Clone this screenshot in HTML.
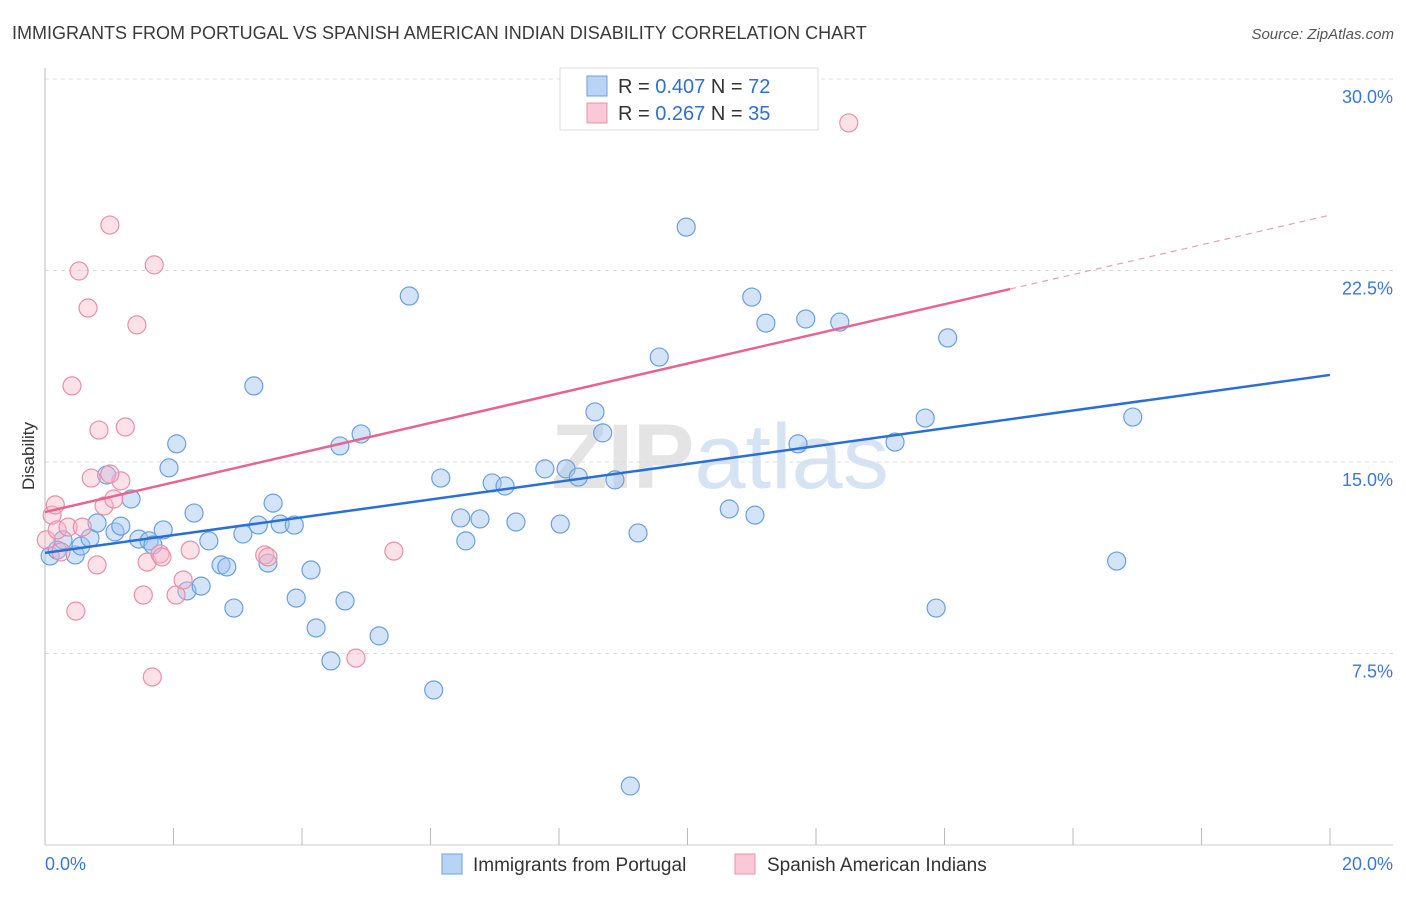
<!DOCTYPE html>
<html><head><meta charset="utf-8"><style>
body{margin:0;background:#fff;font-family:"Liberation Sans",sans-serif}
svg text{font-family:"Liberation Sans",sans-serif}
</style></head><body>
<svg width="1406" height="892" xmlns="http://www.w3.org/2000/svg" id="chart">
<text x="12" y="39" font-size="18" fill="#3a3a3a">IMMIGRANTS FROM PORTUGAL VS SPANISH AMERICAN INDIAN DISABILITY CORRELATION CHART</text>
<text x="1394" y="39" font-size="15" fill="#555" font-style="italic" text-anchor="end">Source: ZipAtlas.com</text>
<text x="720" y="488" font-size="92" fill="#e4e4e4" text-anchor="middle" font-weight="bold">ZIP<tspan fill="#d5e3f3" font-weight="normal">atlas</tspan></text>
<text x="34" y="456" font-size="17" fill="#333" text-anchor="middle" transform="rotate(-90 34 456)">Disability</text>
<g id="grid"></g><g id="marks"></g>
<g>
<rect x="560" y="68" width="258" height="62" fill="#fff" stroke="#ddd"/>
<rect x="587" y="76" width="20" height="20" fill="#b9d3f5" stroke="#6a9fe0"/>
<text x="618" y="93" font-size="20" fill="#333">R = <tspan fill="#2f6fd0">0.407</tspan>   N = <tspan fill="#2f6fd0">72</tspan></text>
<rect x="587" y="103" width="20" height="20" fill="#fac8d6" stroke="#e890a8"/>
<text x="618" y="120" font-size="20" fill="#333">R =  <tspan fill="#2f6fd0">0.267</tspan>   N = <tspan fill="#2f6fd0">35</tspan></text>
</g>
<g>
<rect x="442" y="854" width="20" height="20" fill="#b9d3f5" stroke="#6a9fe0"/>
<text x="473" y="871" font-size="19" fill="#333">Immigrants from Portugal</text>
<rect x="735" y="854" width="20" height="20" fill="#fac8d6" stroke="#e890a8"/>
<text x="767" y="871" font-size="19" fill="#333">Spanish American Indians</text>
</g>
</svg>
<script>
const blueX=[0.08,0.19,0.28,0.47,0.56,0.70,0.81,0.96,1.09,1.18,1.34,1.46,1.62,1.68,1.84,1.93,2.05,2.21,2.32,2.43,2.55,2.74,2.83,2.94,3.08,3.25,3.32,3.47,3.55,3.66,3.88,3.91,4.14,4.22,4.45,4.59,4.67,4.92,5.20,5.67,6.05,6.16,6.47,6.55,6.77,6.96,7.16,7.33,7.78,8.02,8.11,8.30,8.56,8.68,8.87,9.11,9.23,9.56,9.98,10.65,11.00,11.05,11.22,11.72,11.84,12.37,13.23,13.70,13.87,14.05,16.68,16.93];
const blueY=[11.32,11.55,11.95,11.36,11.71,12.02,12.61,14.49,12.26,12.49,13.55,11.98,11.91,11.75,12.34,14.77,15.71,9.95,13.00,10.14,11.91,10.97,10.89,9.28,12.18,17.98,12.53,11.04,13.39,12.57,12.53,9.67,10.77,8.50,7.21,15.63,9.56,16.10,8.19,21.50,6.07,14.37,12.81,11.91,12.77,14.18,14.06,12.65,14.73,12.57,14.73,14.41,16.96,16.14,14.30,2.31,12.22,19.11,24.20,13.16,21.46,12.92,20.44,15.71,20.60,20.48,15.78,16.72,9.28,19.86,11.12,16.76];
const pinkX=[0.02,0.11,0.16,0.19,0.25,0.36,0.42,0.53,0.58,0.67,0.72,0.81,0.84,0.92,1.01,1.07,1.18,1.25,1.43,1.53,1.59,1.67,1.70,1.79,1.82,2.04,2.15,2.26,3.42,3.47,4.84,5.43,0.48,1.01,12.51];
const pinkY=[11.95,12.92,13.32,12.34,11.48,12.45,17.98,22.48,12.45,21.03,14.37,10.97,16.25,13.28,24.28,13.55,14.26,16.37,20.37,9.79,11.08,6.58,22.72,11.40,11.28,9.79,10.38,11.55,11.36,11.28,7.32,11.51,9.16,14.53,28.28];
const blueTrend=[11.44,18.41];
const pinkTrend=[13.04,24.67];
const pinkSolidEnd=15.02;
const yTicks=[7.5,15,22.5,30];
const yTickLabels=["7.5%","15.0%","22.5%","30.0%"];
const xTicks=[0,2,4,6,8,10,12,14,16,18,20];

const NS="http://www.w3.org/2000/svg";
const sx=v=>45+v/20*1285;
const sy=v=>845-v/30*766;
function mk(tag,attrs,parent){const e=document.createElementNS(NS,tag);for(const k in attrs)e.setAttribute(k,attrs[k]);parent.appendChild(e);return e;}
const grid=document.getElementById('grid'),marks=document.getElementById('marks');
yTicks.forEach((t,i)=>{
  const l=mk('line',{x1:45,x2:1393,y1:sy(t),y2:sy(t),stroke:'#ddd','stroke-dasharray':'4,4'},grid);
  
  
  const tx=mk('text',{x:1393,y:sy(t)+24,'font-size':18,fill:'#3a78d8','text-anchor':'end'},grid);
  tx.textContent=yTickLabels[i];
  
  
});
const ax=mk('line',{x1:45,x2:1393,y1:845,y2:845,stroke:'#ccc'},grid);


const ay=mk('line',{x1:45,x2:45,y1:68,y2:845,stroke:'#bbb'},grid);


xTicks.forEach(t=>{
  const l=mk('line',{x1:sx(t),x2:sx(t),y1:828,y2:845,stroke:'#bbb'},grid);
  
  
});
[[0,'0.0%','start',45],[20,'20.0%','end',1393]].forEach(a=>{
  const tx=mk('text',{x:a[3],y:870,'font-size':18,fill:'#3a78d8','text-anchor':a[2]},grid);
  tx.textContent=a[1];
  
  
});
blueX.forEach((x,i)=>{
  const c=mk('circle',{cx:sx(x),cy:sy(blueY[i]),r:9,fill:'rgba(160,196,240,0.45)',stroke:'#6a9fe0','stroke-width':1.2},marks);
  
  
});
pinkX.forEach((x,i)=>{
  const c=mk('circle',{cx:sx(x),cy:sy(pinkY[i]),r:9,fill:'rgba(248,180,200,0.4)',stroke:'#e890a8','stroke-width':1.2},marks);
  
  
});
const bl=mk('line',{x1:sx(0),y1:sy(blueTrend[0]),x2:sx(20),y2:sy(blueTrend[1]),stroke:'#2a6fd6','stroke-width':2.5},marks);


const pAt=x=>pinkTrend[0]+(pinkTrend[1]-pinkTrend[0])*x/20;
const pl=mk('line',{x1:sx(0),y1:sy(pinkTrend[0]),x2:sx(pinkSolidEnd),y2:sy(pAt(pinkSolidEnd)),stroke:'#e8648f','stroke-width':2.5},marks);


const pd=mk('line',{x1:sx(pinkSolidEnd),y1:sy(pAt(pinkSolidEnd)),x2:sx(20),y2:sy(pinkTrend[1]),stroke:'#e8a0b8','stroke-width':1.2,'stroke-dasharray':'6,5'},marks);


</script>
</body></html>
